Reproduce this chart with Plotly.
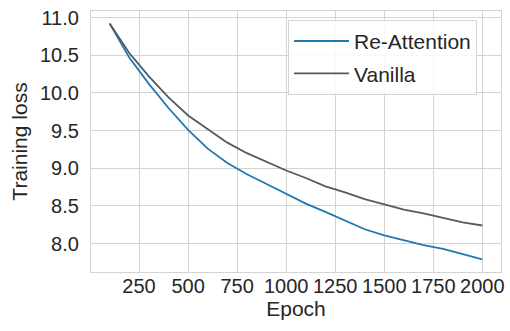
import plotly.graph_objects as go

epochs = [100, 200, 300, 400, 500, 600, 700, 800, 900, 1000,
          1100, 1200, 1300, 1400, 1500, 1600, 1700, 1800, 1900, 2000]
re_attention = [10.92, 10.47, 10.12, 9.80, 9.51, 9.26, 9.07, 8.92, 8.79, 8.66,
                8.53, 8.42, 8.31, 8.19, 8.11, 8.04, 7.98, 7.93, 7.86, 7.79]
vanilla = [10.92, 10.53, 10.22, 9.94, 9.70, 9.52, 9.34, 9.20, 9.08, 8.97,
           8.87, 8.76, 8.68, 8.59, 8.52, 8.45, 8.40, 8.34, 8.28, 8.24]
x_ticks = [250, 500, 750, 1000, 1250, 1500, 1750, 2000]
y_ticks = [8.0, 8.5, 9.0, 9.5, 10.0, 10.5, 11.0]

FONT = "Liberation Sans, Arial, sans-serif"
TXT = "#262626"
GRID = "#d3d3d3"

fig = go.Figure()
fig.add_trace(go.Scatter(x=epochs, y=re_attention, mode="lines", name="Re-Attention",
                         line=dict(color="#1f77b4", width=1.8), legendgroup="a"))
fig.add_trace(go.Scatter(x=epochs, y=vanilla, mode="lines", name="Vanilla",
                         line=dict(color="#505b66", width=1.8), legendgroup="b"))

fig.update_layout(
    width=510, height=331,
    margin=dict(l=91, r=9, t=11, b=59),
    paper_bgcolor="white", plot_bgcolor="white",
    font=dict(family=FONT, color=TXT, size=20),
    showlegend=True,
    legend=dict(x=0.4805, y=0.966, xanchor="left", yanchor="top",
                bgcolor="rgba(255,255,255,0.85)", bordercolor="#d5d5d5", borderwidth=1,
                font=dict(size=21, color=TXT, family=FONT),
                itemwidth=55, tracegroupgap=2),
)
fig.update_xaxes(range=[5, 2095], tickvals=x_ticks, ticktext=[str(v) for v in x_ticks],
                 showgrid=True, gridcolor=GRID, gridwidth=1.3,
                 showline=True, linecolor=GRID, linewidth=1.3, mirror=True,
                 zeroline=False, ticks="", ticklabelstandoff=-4, automargin=False,
                 tickfont=dict(size=20, family=FONT, color=TXT),
                 title=dict(text="Epoch", font=dict(size=21, family=FONT, color=TXT), standoff=3))
fig.update_yaxes(range=[7.6225, 11.0875], tickvals=y_ticks, ticktext=[f"{v:.1f}" for v in y_ticks],
                 showgrid=True, gridcolor=GRID, gridwidth=1.3,
                 showline=True, linecolor=GRID, linewidth=1.3, mirror=True,
                 zeroline=False, ticks="", ticklabelstandoff=7, automargin=False,
                 tickfont=dict(size=20, family=FONT, color=TXT),
                 title=dict(text="Training loss", font=dict(size=21, family=FONT, color=TXT), standoff=6))

fig.write_html("out.html")
